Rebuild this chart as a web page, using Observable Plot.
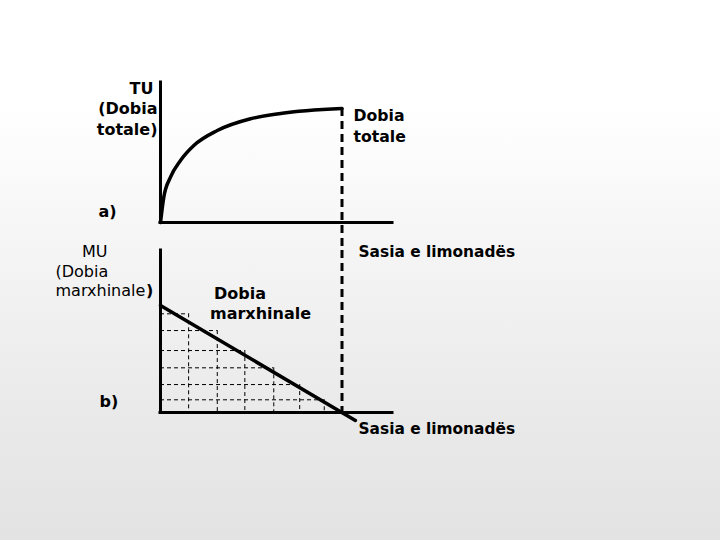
<!DOCTYPE html>
<html><head><meta charset="utf-8">
<script src="https://cdn.jsdelivr.net/npm/d3@7"></script>
<script src="https://cdn.jsdelivr.net/npm/@observablehq/plot@0.6"></script>
<style>
html,body{margin:0;padding:0;}
body{width:720px;height:540px;position:relative;overflow:hidden;
background:linear-gradient(to bottom,#ffffff 0%,#ffffff 20%,#f4f4f4 48%,#eaeaea 75%,#e3e3e3 100%);
font-family:"DejaVu Sans",sans-serif;}
#topPanel,#bottomPanel{position:absolute;left:0;width:720px;}
#topPanel{top:0px;height:250px}
#bottomPanel{top:222px;height:318px}
#topPanel svg,#bottomPanel svg{display:block;max-width:none;}
</style></head><body>
<div id="topPanel"></div><div id="bottomPanel"></div>
<script>
// Panel a) total utility curve
const tuQuantity = [0, 0.121, 0.366, 0.733, 1.22, 2.08, 3.30, 4.40, 6.65];
const tuValue    = [0, 1.81, 3.24, 4.43, 5.50, 6.57, 7.41, 7.79, 8.14];
// Panel b) marginal utility steps and line
const stepQuantity = [1.03, 2.08, 3.09, 4.15, 5.10, 6.00];
const stepMU       = [7.31, 6.07, 4.59, 3.31, 2.07, 0.94];
const muLineQuantity = [0, 7.14];
const muLineValue    = [7.93, -0.59];
const satiationQuantity = 6.65;
// Texts
const tuAxisLabel = ["TU", "(Dobia", "totale)"];
const muAxisLabel = ["MU", "(Dobia", "marxhinale", ")"];
const tuCurveLabel = ["Dobia", "totale"];
const muCurveLabel = ["Dobia", "marxhinale"];
const xAxisLabel = "Sasia e limonadës";
const panelLabels = ["a)", "b)"];

const tuData = tuQuantity.map((q, i) => ({q, v: tuValue[i]}));
const stepData = stepQuantity.map((q, i) => ({q, v: stepMU[i]}));
const muLine = muLineQuantity.map((q, i) => ({q, v: muLineValue[i]}));

function label(text, px, baseline, ml, mt, opts = {}) {
  const fs = opts.size || 16;
  return Plot.text([text], {
    text: d => d, frameAnchor: "top-left",
    dx: px - ml, dy: baseline - 0.32 * fs - mt,
    textAnchor: opts.anchor || "start", lineAnchor: "middle",
    fontWeight: opts.weight || "bold", fontSize: fs, fill: "black"
  });
}

const plotStyle = {background: "transparent", overflow: "visible", fontFamily: "DejaVu Sans, sans-serif"};

// Top panel
const tm = {l: 160, t: 82};
const topChart = Plot.plot({
  width: 720, height: 250,
  marginLeft: tm.l, marginRight: 328, marginTop: tm.t, marginBottom: 28,
  x: {domain: [0, 8.5], axis: null},
  y: {domain: [0, 10], axis: null},
  style: plotStyle,
  marks: [
    Plot.ruleX([satiationQuantity], {y1: tuValue[tuValue.length - 1], y2: -2.0, stroke: "black", strokeWidth: 3, strokeDasharray: "8,5"}),
    Plot.ruleX([0], {y1: 0, y2: 10, stroke: "black", strokeWidth: 3, strokeLinecap: "square"}),
    Plot.ruleY([0], {x1: 0, x2: 8.5, stroke: "black", strokeWidth: 3, strokeLinecap: "square"}),
    Plot.line(tuData, {x: "q", y: "v", curve: "monotone-x", stroke: "black", strokeWidth: 3.5}),
    label(tuAxisLabel[0], 153, 93.5, tm.l, tm.t, {anchor: "end"}),
    label(tuAxisLabel[1], 157, 113.5, tm.l, tm.t, {anchor: "end"}),
    label(tuAxisLabel[2], 157, 134, tm.l, tm.t, {anchor: "end"}),
    label(tuCurveLabel[0], 353, 120.5, tm.l, tm.t, {size: 15.7}),
    label(tuCurveLabel[1], 353, 141, tm.l, tm.t, {size: 15.7}),
    label(panelLabels[0], 98, 216, tm.l, tm.t)
  ]
});
document.getElementById("topPanel").appendChild(topChart);

// Bottom panel (svg placed at page y = 222)
const off = 222;
const bm = {l: 160, t: 28};
const bottomChart = Plot.plot({
  width: 720, height: 318,
  marginLeft: bm.l, marginRight: 328, marginTop: bm.t, marginBottom: 128,
  x: {domain: [0, 8.5], axis: null},
  y: {domain: [0, 12], axis: null},
  style: plotStyle,
  marks: [
    Plot.ruleY(stepData, {y: "v", x1: 0, x2: "q", stroke: "black", strokeWidth: 1, strokeDasharray: "4,3"}),
    Plot.ruleX(stepData, {x: "q", y1: "v", y2: 0, stroke: "black", strokeWidth: 1, strokeDasharray: "4,3"}),
    Plot.ruleX([satiationQuantity], {y1: 12, y2: 0, stroke: "black", strokeWidth: 3, strokeDasharray: "8,5"}),
    Plot.ruleX([0], {y1: 0, y2: 12, stroke: "black", strokeWidth: 3, strokeLinecap: "square"}),
    Plot.ruleY([0], {x1: 0, x2: 8.5, stroke: "black", strokeWidth: 3, strokeLinecap: "square"}),
    Plot.line(muLine, {x: "q", y: "v", stroke: "black", strokeWidth: 3.5}),
    label(muAxisLabel[0], 81.5, 256.5 - off, bm.l, bm.t, {weight: "normal"}),
    label(muAxisLabel[1], 55, 276.5 - off, bm.l, bm.t, {weight: "normal"}),
    label(muAxisLabel[2], 55, 295 - off, bm.l, bm.t, {weight: "normal"}),
    label(muAxisLabel[3], 145.5, 295 - off, bm.l, bm.t),
    label(muCurveLabel[0], 213.5, 298.5 - off, bm.l, bm.t),
    label(muCurveLabel[1], 209.5, 318.5 - off, bm.l, bm.t),
    label(xAxisLabel, 358, 256.5 - off, bm.l, bm.t, {size: 15.4}),
    label(xAxisLabel, 358, 433.5 - off, bm.l, bm.t, {size: 15.4}),
    label(panelLabels[1], 99, 406.5 - off, bm.l, bm.t)
  ]
});
document.getElementById("bottomPanel").appendChild(bottomChart);
</script>
</body></html>
